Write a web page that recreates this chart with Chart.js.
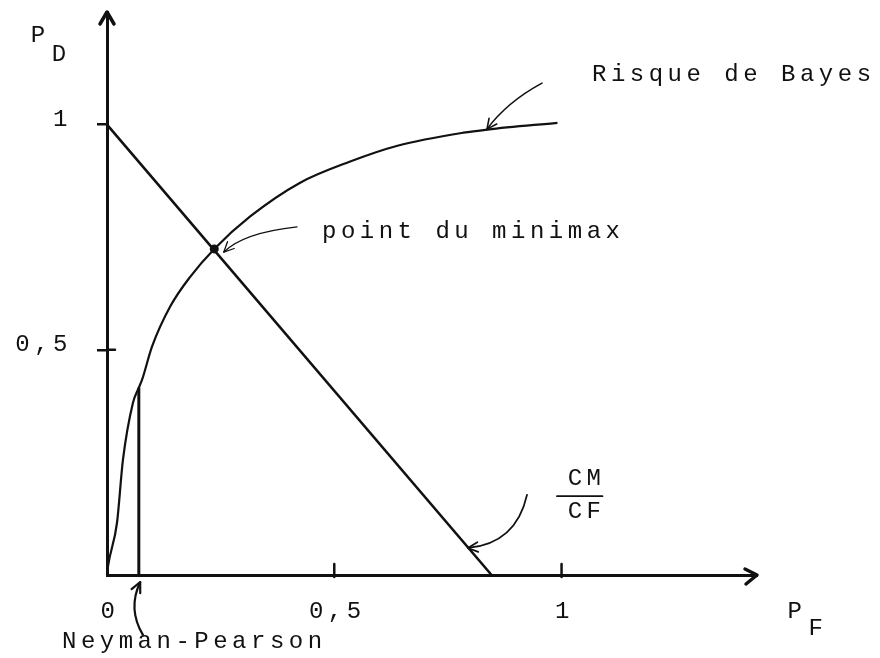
<!DOCTYPE html>
<html><head><meta charset="utf-8">
<script src="https://cdn.jsdelivr.net/npm/chart.js@4/dist/chart.umd.min.js"></script>
<style>html,body{margin:0;padding:0;background:#fff;}canvas{display:block;}</style>
</head><body>
<canvas id="c" width="880" height="658"></canvas>
<script>
// ---- data ----
const rocPF = [0, 0.002, 0.022, 0.035, 0.057, 0.070, 0.077, 0.099, 0.139, 0.183, 0.236, 0.315, 0.425, 0.535, 0.639, 0.784, 0.837, 0.991];
const rocPD = [0, 0.018, 0.116, 0.255, 0.382, 0.416, 0.433, 0.507, 0.596, 0.662, 0.724, 0.796, 0.871, 0.918, 0.953, 0.982, 0.989, 1.004];
const costLinePF = [0, 0.846];
const costLinePD = [1, 0];
const neymanPF = [0.070, 0.070];
const neymanPD = [0, 0.416];
const minimaxPF = [0.236];
const minimaxPD = [0.724];
const xTickValues = [0, 0.5, 1];
const xTickLabels = ['0', '0,5', '1'];
const yTickValues = [0.5, 1];
const yTickLabels = ['0,5', '1'];
const axisMaxPF = 1.43;
const axisMaxPD = 1.25;

// ---- styling ----
const INK = '#111';
const FAMILY = '"Liberation Mono", "DejaVu Sans Mono", monospace';
const FSIZE = 24;
const SPACING = '4.5px';
const pts = (xs, ys) => xs.map((x, i) => ({x: x, y: ys[i]}));

function curvedArrow(ctx, tail, ctrl, tip, lw) {
  ctx.lineWidth = lw;
  ctx.beginPath();
  ctx.moveTo(tail[0], tail[1]);
  ctx.quadraticCurveTo(ctrl[0], ctrl[1], tip[0], tip[1]);
  ctx.stroke();
  const ang = Math.atan2(tip[1] - ctrl[1], tip[0] - ctrl[0]);
  const L = 11, a = 0.45;
  ctx.beginPath();
  ctx.moveTo(tip[0] - L * Math.cos(ang - a), tip[1] - L * Math.sin(ang - a));
  ctx.lineTo(tip[0], tip[1]);
  ctx.lineTo(tip[0] - L * Math.cos(ang + a), tip[1] - L * Math.sin(ang + a));
  ctx.stroke();
}

function noPad(s) { s.paddingTop = 0; s.paddingBottom = 0; s.paddingLeft = 0; s.paddingRight = 0; }

const sketchPlugin = {
  id: 'sketch',
  beforeDraw(chart) { chart.ctx.letterSpacing = SPACING; },
  afterDraw(chart) {
    const ctx = chart.ctx, xs = chart.scales.x, ys = chart.scales.y;
    const X = v => xs.getPixelForValue(v), Y = v => ys.getPixelForValue(v);
    const P = (a, b) => [X(a), Y(b)];
    ctx.save();
    ctx.strokeStyle = INK; ctx.fillStyle = INK;
    ctx.lineCap = 'round'; ctx.lineJoin = 'round';
    const x0 = X(0), y0 = Y(0), xEnd = X(axisMaxPF), yEnd = Y(axisMaxPD);
    // axis arrow heads
    ctx.lineWidth = 3.5;
    ctx.beginPath(); ctx.moveTo(x0 - 7, yEnd + 12); ctx.lineTo(x0, yEnd); ctx.lineTo(x0 + 7, yEnd + 12); ctx.stroke();
    ctx.beginPath(); ctx.moveTo(xEnd - 12, y0 - 6); ctx.lineTo(xEnd, y0); ctx.lineTo(xEnd - 11, y0 + 9); ctx.stroke();
    // x tick marks (drawn above the axis, as in the sketch)
    ctx.lineWidth = 2.5;
    xTickValues.filter(v => v > 0).forEach(v => {
      ctx.beginPath(); ctx.moveTo(X(v), y0 - 11); ctx.lineTo(X(v), y0 + 2); ctx.stroke();
    });
    // y tick at 0.5 crosses the axis
    ctx.beginPath(); ctx.moveTo(x0, Y(0.5)); ctx.lineTo(x0 + 8, Y(0.5)); ctx.stroke();

    // annotation arrows
    curvedArrow(ctx, P(0.957, 1.092), P(0.880, 1.050), P(0.836, 0.990), 1.6);
    curvedArrow(ctx, P(0.418, 0.773), P(0.300, 0.760), P(0.257, 0.717), 1.3);
    curvedArrow(ctx, P(0.924, 0.178), P(0.900, 0.070), P(0.794, 0.060), 1.8);
    curvedArrow(ctx, P(0.079, -0.133), P(0.045, -0.075), P(0.073, -0.016), 2.2);

    // texts
    ctx.font = FSIZE + 'px ' + FAMILY;
    ctx.textBaseline = 'middle';
    ctx.textAlign = 'left';
    ctx.fillText('Risque de Bayes', X(1.067), Y(1.112));
    ctx.fillText('point du minimax', X(0.473), Y(0.762));
    ctx.fillText('Neyman-Pearson', X(-0.099), Y(-0.147));
    ctx.textAlign = 'center';
    ctx.fillText('P', X(-0.147), Y(1.197));
    ctx.fillText('D', X(-0.101), Y(1.155));
    ctx.fillText('P', X(1.518), Y(-0.082));
    ctx.fillText('F', X(1.564), Y(-0.118));
    ctx.fillText('CM', X(1.055), Y(0.215));
    ctx.fillText('CF', X(1.055), Y(0.140));
    ctx.lineWidth = 1.8;
    ctx.beginPath(); ctx.moveTo(X(0.99), Y(0.175)); ctx.lineTo(X(1.09), Y(0.175)); ctx.stroke();
    ctx.restore();
  }
};

new Chart(document.getElementById('c'), {
  type: 'scatter',
  data: {
    datasets: [
      { label: 'ROC', data: pts(rocPF, rocPD), showLine: true, borderColor: INK, borderWidth: 2.2,
        pointRadius: 0, cubicInterpolationMode: 'monotone' },
      { label: 'CM/CF', data: pts(costLinePF, costLinePD), showLine: true, borderColor: INK, borderWidth: 2.6, pointRadius: 0 },
      { label: 'Neyman-Pearson', data: pts(neymanPF, neymanPD), showLine: true, borderColor: INK, borderWidth: 3, pointRadius: 0 },
      { label: 'minimax', data: pts(minimaxPF, minimaxPD), showLine: false, pointRadius: 4.5,
        pointBackgroundColor: INK, pointBorderColor: INK, pointBorderWidth: 0 }
    ]
  },
  options: {
    responsive: false,
    devicePixelRatio: 1,
    animation: false,
    clip: false,
    layout: { padding: { left: 0, top: 12, right: 123, bottom: 0 } },
    plugins: { legend: { display: false }, tooltip: { enabled: false } },
    scales: {
      x: {
        type: 'linear', position: 'bottom', min: 0, max: axisMaxPF,
        afterBuildTicks: s => { s.ticks = xTickValues.map(v => ({value: v})); },
        afterFit: s => { s.height = 83; noPad(s); },
        grid: { display: false, drawTicks: false },
        border: { display: true, color: INK, width: 3 },
        ticks: { padding: 22, labelOffset: 3, color: INK, font: { family: FAMILY, size: FSIZE }, maxRotation: 0, autoSkip: false,
          callback: v => xTickLabels[xTickValues.indexOf(v)] }
      },
      y: {
        type: 'linear', position: 'left', min: 0, max: axisMaxPD,
        afterBuildTicks: s => { s.ticks = yTickValues.map(v => ({value: v})); },
        afterFit: s => { s.width = 107; noPad(s); },
        grid: { display: true, drawOnChartArea: false, drawTicks: true, tickLength: 10, color: INK, lineWidth: 2.5 },
        border: { display: true, color: INK, width: 3 },
        ticks: { padding: 25, labelOffset: -5, color: INK, font: { family: FAMILY, size: FSIZE }, autoSkip: false,
          callback: v => yTickLabels[yTickValues.indexOf(v)] }
      }
    }
  },
  plugins: [sketchPlugin]
});
</script>
</body></html>
